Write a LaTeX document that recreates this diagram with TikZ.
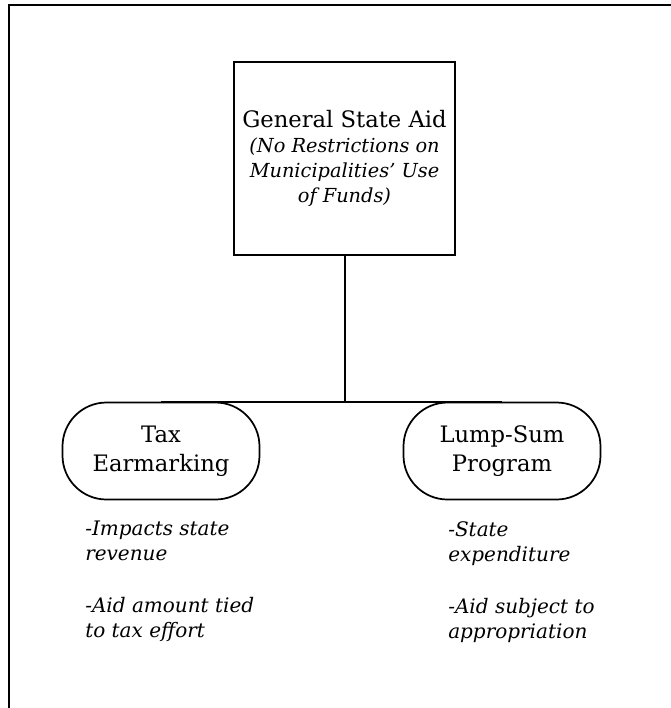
\documentclass[tikz,border=0pt]{standalone}
\usepackage{fontspec}
\setmainfont{DejaVu Serif}
\begin{document}
\begin{tikzpicture}[x=0.75pt,y=-0.75pt,
  frameline/.style={line width=1.5pt},
  topbox/.style={draw, line width=1.5pt, minimum width=165.75pt, minimum height=144.75pt, inner sep=0pt, align=center, font=\fontsize{17pt}{18.75pt}\selectfont},
  pill/.style={draw, line width=1.3pt, rounded corners=33pt, minimum width=147.75pt, minimum height=72.75pt, inner sep=0pt, align=center, font=\fontsize{17pt}{21.75pt}\selectfont},
  note/.style={anchor=north west, inner sep=0pt, align=left, font=\fontsize{15pt}{18.75pt}\selectfont\itshape},
  link/.style={line width=1.5pt}]
\useasboundingbox (0,0) rectangle (671,708);
\coordinate (ftl) at (9,5);
\coordinate (ftr) at (672,5);
\coordinate (fbl) at (9,709);
\draw[frameline] (ftr) -- (ftl) -- (fbl);

\node[topbox] (gsa) at (344.5,158.5) {General State Aid\\{\fontsize{14.5pt}{18.75pt}\selectfont\itshape (No Restrictions on}\\{\fontsize{14.5pt}{18.75pt}\selectfont\itshape Municipalities' Use}\\{\fontsize{14.5pt}{18.75pt}\selectfont\itshape of Funds)}};
\node[pill] (tax) at (161,451) {Tax\\Earmarking};
\node[pill] (lump) at (502,451) {Lump-Sum\\Program};

\draw[link] (gsa.south) -- (gsa.south |- tax.north);
\draw[link] (tax.north) -- (lump.north);

\node[note] (taxnote) at (85,521) {-Impacts state\\revenue\\[20.25pt]-Aid amount tied\\to tax effort};
\node[note] (lumpnote) at (448,521) {-State\\expenditure\\[20.25pt]-Aid subject to\\appropriation};
\end{tikzpicture}
\end{document}
